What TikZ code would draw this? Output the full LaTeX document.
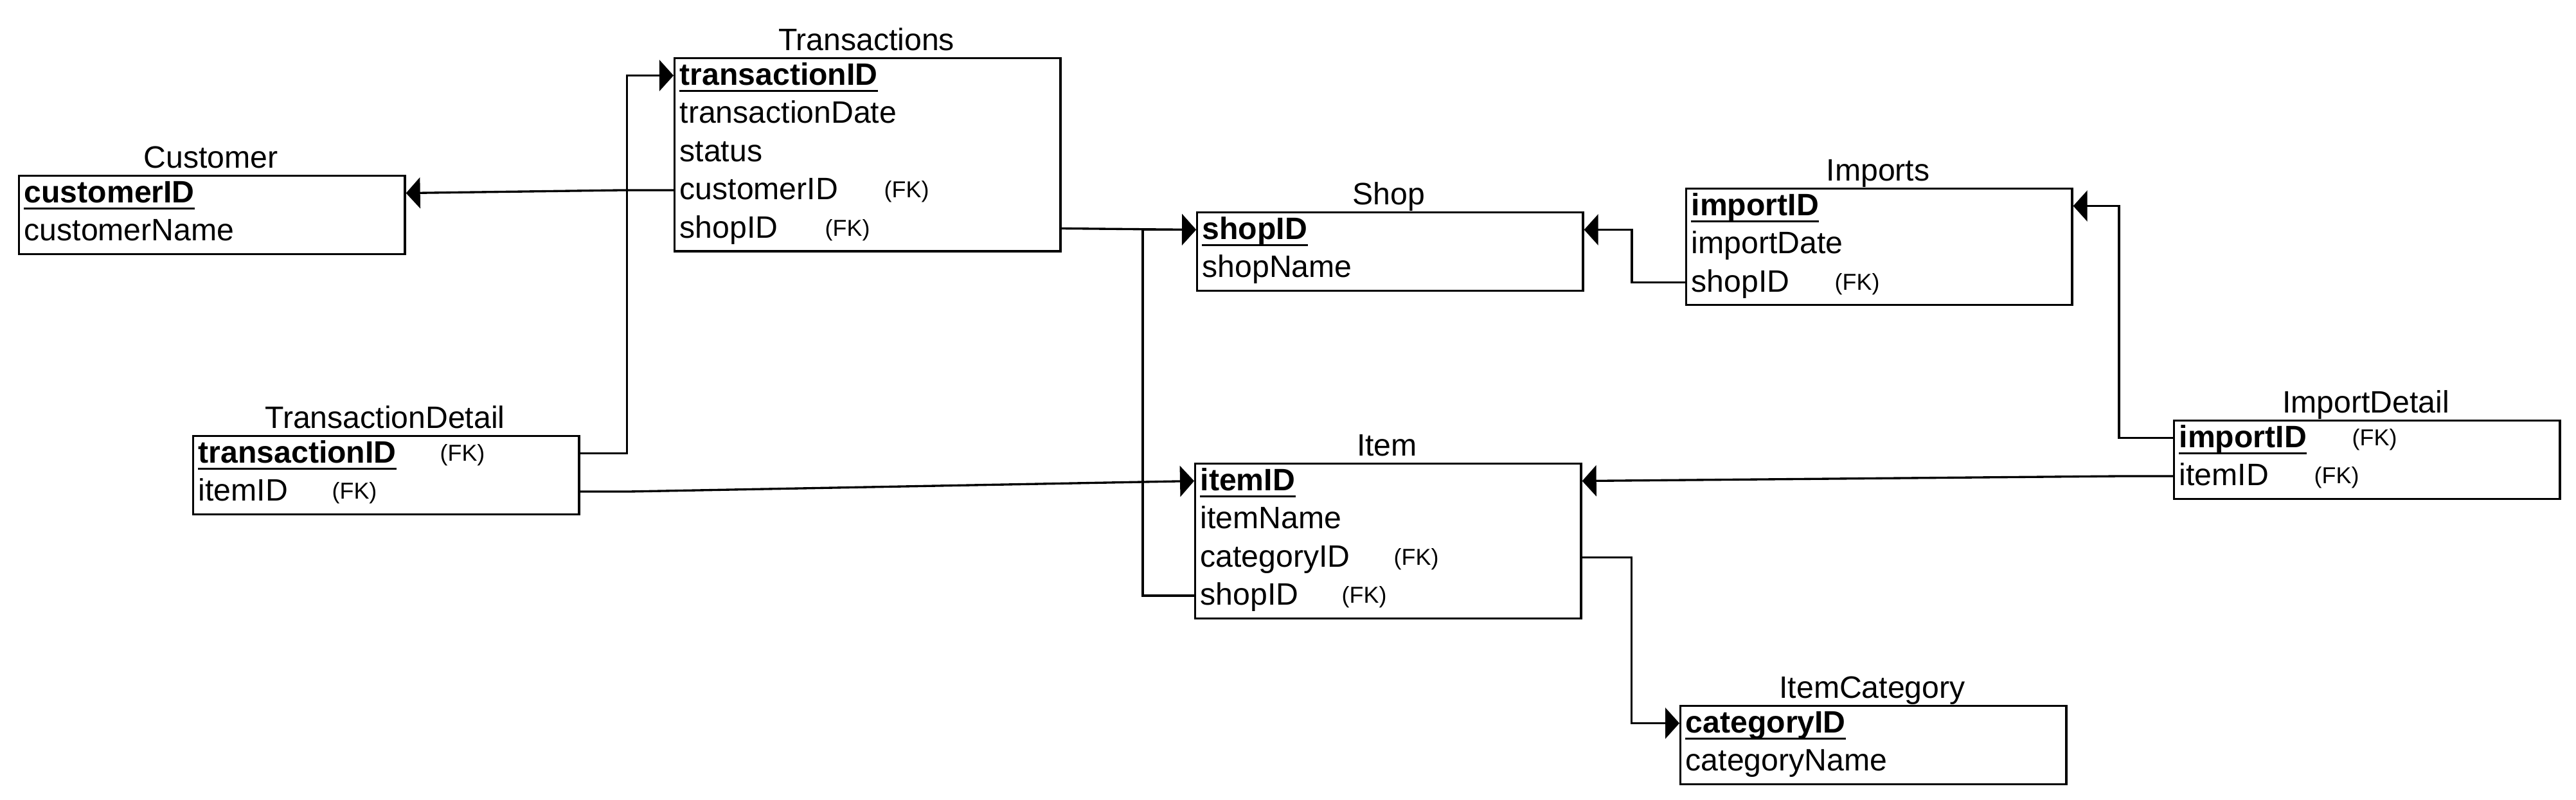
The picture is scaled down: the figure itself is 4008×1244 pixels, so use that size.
\documentclass[tikz,border=0pt]{standalone}
\usepackage{fontspec}
\setmainfont{Liberation Sans}
\usetikzlibrary{arrows.meta}
\newcommand\rowfont{\fontsize{13.7pt}{16pt}\selectfont}
\newcommand\fkfont{\fontsize{10.2pt}{12pt}\selectfont}
\begin{document}
\begin{tikzpicture}[x=0.01cm,y=-0.01cm,
  tbl/.style={draw, line width=0.95pt, anchor=north west, inner sep=0pt, minimum width=6cm, minimum height=#1},
  ttl/.style={anchor=base, inner sep=0pt, font=\rowfont},
  fld/.style={anchor=base west, inner sep=0pt, font=\rowfont},
  key/.style={anchor=base west, inner sep=0pt, font=\rowfont\bfseries},
  fk/.style={anchor=base west, inner sep=0pt, font=\fkfont},
  uline/.style={line width=0.85pt},
  link/.style={line width=0.95pt},
  arr/.style={link, -{Triangle[length=0.22cm,width=0.48cm]}}]
\useasboundingbox (0,0) rectangle (4008,1244);

% ---------- Customer ----------
\node[tbl=1.215cm] (cu) at (28,272) {};
\node[ttl] (cu-t) at (328,261) {Customer};
\node[key] (cu-k) at (37,315) {customerID};
\draw[uline] ([yshift=-0.095cm]cu-k.base west) -- ([yshift=-0.095cm]cu-k.base east);
\node[fld] (cu-f2) at (37,374.5) {customerName};
\coordinate (cu-r1) at (28,300.5);

% ---------- Transactions ----------
\node[tbl=3.0cm] (tr) at (1048,89) {};
\node[ttl] (tr-t) at (1348,78) {Transactions};
\node[key] (tr-k) at (1057,132) {transactionID};
\draw[uline] ([yshift=-0.095cm]tr-k.base west) -- ([yshift=-0.095cm]tr-k.base east);
\node[fld] (tr-f2) at (1057,191.5) {transactionDate};
\node[fld] (tr-f3) at (1057,251) {status};
\node[fld] (tr-f4) at (1057,310.5) {customerID};
\node[fk] (tr-fk4) at (1375,307.5) {(FK)};
\node[fld] (tr-f5) at (1057,370) {shopID};
\node[fk] (tr-fk5) at (1283,367) {(FK)};
\coordinate (tr-r1) at (1048,117.5);
\coordinate (tr-r4) at (1048,296);
\coordinate (tr-r5) at (1048,355.5);

% ---------- TransactionDetail ----------
\node[tbl=1.215cm] (td) at (299,677) {};
\node[ttl] (td-t) at (599,666) {TransactionDetail};
\node[key] (td-k) at (308,720) {transactionID};
\draw[uline] ([yshift=-0.095cm]td-k.base west) -- ([yshift=-0.095cm]td-k.base east);
\node[fk] (td-fk1) at (684,717) {(FK)};
\node[fld] (td-f2) at (308,779.5) {itemID};
\node[fk] (td-fk2) at (516,776.5) {(FK)};
\coordinate (td-r1) at (299,705.5);
\coordinate (td-r2) at (299,765);

% ---------- Shop ----------
\node[tbl=1.215cm] (sh) at (1861,329) {};
\node[ttl] (sh-t) at (2161,318) {Shop};
\node[key] (sh-k) at (1870,372) {shopID};
\draw[uline] ([yshift=-0.095cm]sh-k.base west) -- ([yshift=-0.095cm]sh-k.base east);
\node[fld] (sh-f2) at (1870,431.5) {shopName};
\coordinate (sh-r1) at (1861,357.5);

% ---------- Imports ----------
\node[tbl=1.81cm] (im) at (2622,292) {};
\node[ttl] (im-t) at (2922,281) {Imports};
\node[key] (im-k) at (2631,335) {importID};
\draw[uline] ([yshift=-0.095cm]im-k.base west) -- ([yshift=-0.095cm]im-k.base east);
\node[fld] (im-f2) at (2631,394.5) {importDate};
\node[fld] (im-f3) at (2631,454) {shopID};
\node[fk] (im-fk3) at (2854,451) {(FK)};
\coordinate (im-r1) at (2622,320.5);
\coordinate (im-r3) at (2622,439.5);

% ---------- ImportDetail ----------
\node[tbl=1.215cm] (id) at (3381,653) {};
\node[ttl] (id-t) at (3681,642) {ImportDetail};
\node[key] (id-k) at (3390,696) {importID};
\draw[uline] ([yshift=-0.095cm]id-k.base west) -- ([yshift=-0.095cm]id-k.base east);
\node[fk] (id-fk1) at (3659,693) {(FK)};
\node[fld] (id-f2) at (3390,755.5) {itemID};
\node[fk] (id-fk2) at (3600,752.5) {(FK)};
\coordinate (id-r1) at (3381,681.5);
\coordinate (id-r2) at (3381,741);

% ---------- Item ----------
\node[tbl=2.405cm] (it) at (1858,720) {};
\node[ttl] (it-t) at (2158,709) {Item};
\node[key] (it-k) at (1867,763) {itemID};
\draw[uline] ([yshift=-0.095cm]it-k.base west) -- ([yshift=-0.095cm]it-k.base east);
\node[fld] (it-f2) at (1867,822.5) {itemName};
\node[fld] (it-f3) at (1867,882) {categoryID};
\node[fk] (it-fk3) at (2168,879) {(FK)};
\node[fld] (it-f4) at (1867,941.5) {shopID};
\node[fk] (it-fk4) at (2087,938.5) {(FK)};
\coordinate (it-r1) at (1858,748.5);
\coordinate (it-r3) at (1858,867.5);
\coordinate (it-r4) at (1858,927);

% ---------- ItemCategory ----------
\node[tbl=1.215cm] (ic) at (2613,1097) {};
\node[ttl] (ic-t) at (2913,1086) {ItemCategory};
\node[key] (ic-k) at (2622,1140) {categoryID};
\draw[uline] ([yshift=-0.095cm]ic-k.base west) -- ([yshift=-0.095cm]ic-k.base east);
\node[fld] (ic-f2) at (2622,1199.5) {categoryName};
\coordinate (ic-r1) at (2613,1125.5);

% ---------- Connectors ----------
\draw[arr] (tr-r4 -| tr.west) -- ++(-83,0) -- (cu-r1 -| cu.east);
\draw[arr] (td-r1 -| td.east) -- ++(73,0) |- (tr-r1 -| tr.west);
\draw[arr] (td-r2 -| td.east) -- ++(75,0) -- (it-r1 -| it.west);
\draw[arr] (tr-r5 -| tr.east) -- (sh-r1 -| sh.west);
\draw[arr] (it-r4 -| it.west) -- ++(-80,0) |- (sh-r1 -| sh.west);
\draw[arr] (im-r3 -| im.west) -- ++(-83,0) |- (sh-r1 -| sh.east);
\draw[arr] (id-r1 -| id.west) -- ++(-84,0) |- (im-r1 -| im.east);
\draw[arr] (id-r2 -| id.west) -- ++(-84,0) -- (it-r1 -| it.east);
\draw[arr] (it-r3 -| it.east) -- ++(77,0) |- (ic-r1 -| ic.west);
\end{tikzpicture}
\end{document}
